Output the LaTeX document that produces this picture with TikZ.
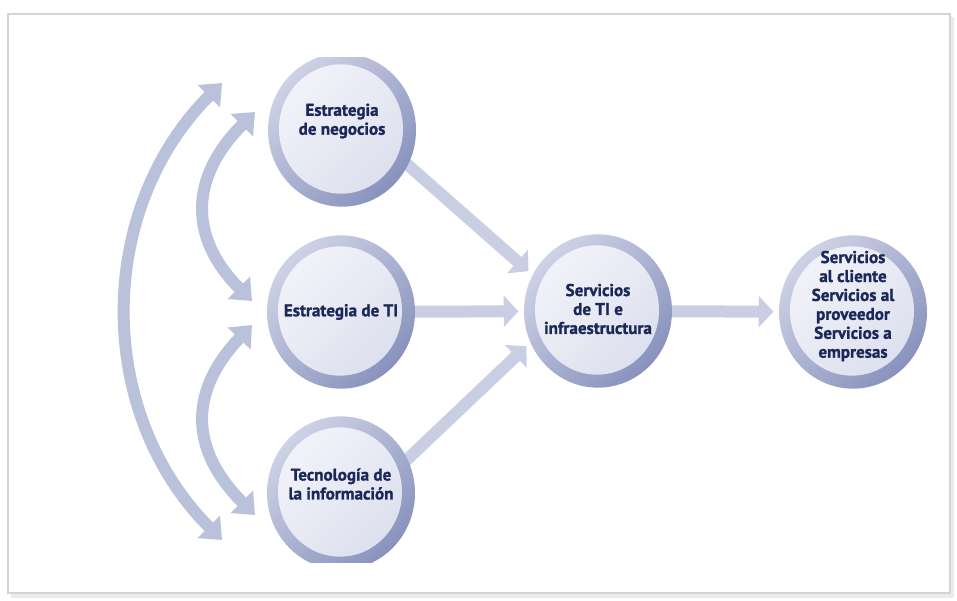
\documentclass[tikz,border=0pt]{standalone}
\usepackage{fontspec}
\setmainfont{PT Sans}[BoldFont={PT Sans Bold}, BoldFeatures={FakeBold=1.3}]
\usetikzlibrary{shapes.geometric,arrows.meta,backgrounds}

\definecolor{ringlight}{RGB}{206,210,229}
\definecolor{ringdark}{RGB}{136,146,189}
\definecolor{disclight}{RGB}{243,244,250}
\definecolor{discdark}{RGB}{219,222,237}
\definecolor{labelblue}{RGB}{27,40,88}
\definecolor{curvecol}{RGB}{186,193,219}
\definecolor{flowcol}{RGB}{201,206,227}
\definecolor{framecol}{RGB}{212,212,212}

\tikzset{
  bubble/.style={ellipse, minimum width=111pt, minimum height=115pt, inner sep=0pt,
    top color=ringlight, bottom color=ringdark, shading angle=45,
    path picture={\shade[top color=disclight, bottom color=discdark, shading angle=45]
      ([shift={(-1,-1)}]path picture bounding box.center) ellipse (46.5pt and 48.5pt);}},
  caption/.style={align=center, text=labelblue, inner sep=0pt,
    font=\bfseries\fontsize{12.8}{14.2}\selectfont},
  flow/.style={line width=9pt, flowcol, shorten <=-10pt, shorten >=4pt,
    -{Triangle[width=23pt,length=11pt]}},
  bigcurve/.style={line width=9pt, curvecol,
    {Triangle[width=23pt,length=14pt]}-{Triangle[width=23pt,length=14pt]}},
}

\begin{document}
\begin{tikzpicture}[x=0.75pt, y=-0.75pt]
  \useasboundingbox (0,0) rectangle (957,600);
  \draw[black!8, line width=2.5pt] (11,596) -- (952,596) -- (952,17);
  \draw[framecol, line width=1pt] (8,14) rectangle (950,593);

  % circles
  \begin{scope}
    \clip (0,57) rectangle (957,562);
    \node[bubble] (neg) at (342,130) {};
    \node[bubble] (est) at (341,312) {};
    \node[bubble] (tec) at (341,493) {};
    \node[bubble] (inf) at (598,311) {};
    \node[bubble] (serv) at (853,312) {};
  \end{scope}

  \node[caption] (neg-t) at (342,121) {Estrategia\\de negocios};
  \node[caption] (est-t) at (341,312) {Estrategia de TI};
  \node[caption] (tec-t) at (341,484) {Tecnología de\\la información};
  \node[caption] (inf-t) at (598,309) {Servicios\\de TI e\\infraestructura};
  \node[caption] (serv-t) at (853,306) {Servicios\\al cliente\\Servicios al\\proveedor\\Servicios a\\empresas};

  % arrows into the services
  \begin{scope}[on background layer]
    \draw[flow] (neg.-28) -- (inf.151);
    \draw[flow] (est) -- (inf);
    \draw[flow] (tec.27) -- (inf.-155);
    \draw[flow] (inf) -- (serv);
  \end{scope}

  % links between the strategies
  \coordinate (outA) at (222,83);
  \coordinate (outB) at (222,540);
  \coordinate (upA) at (255,112);
  \coordinate (upB) at (252,301);
  \coordinate (lowA) at (252,325);
  \coordinate (lowB) at (255,515);
  \draw[bigcurve] (outA) .. controls +(-127,127) and +(-127,-127) .. (outB);
  \draw[bigcurve] (upA) .. controls +(-66,66) and +(-63,-63) .. (upB);
  \draw[bigcurve] (lowA) .. controls +(-63,66) and +(-66,-66) .. (lowB);
\end{tikzpicture}
\end{document}
